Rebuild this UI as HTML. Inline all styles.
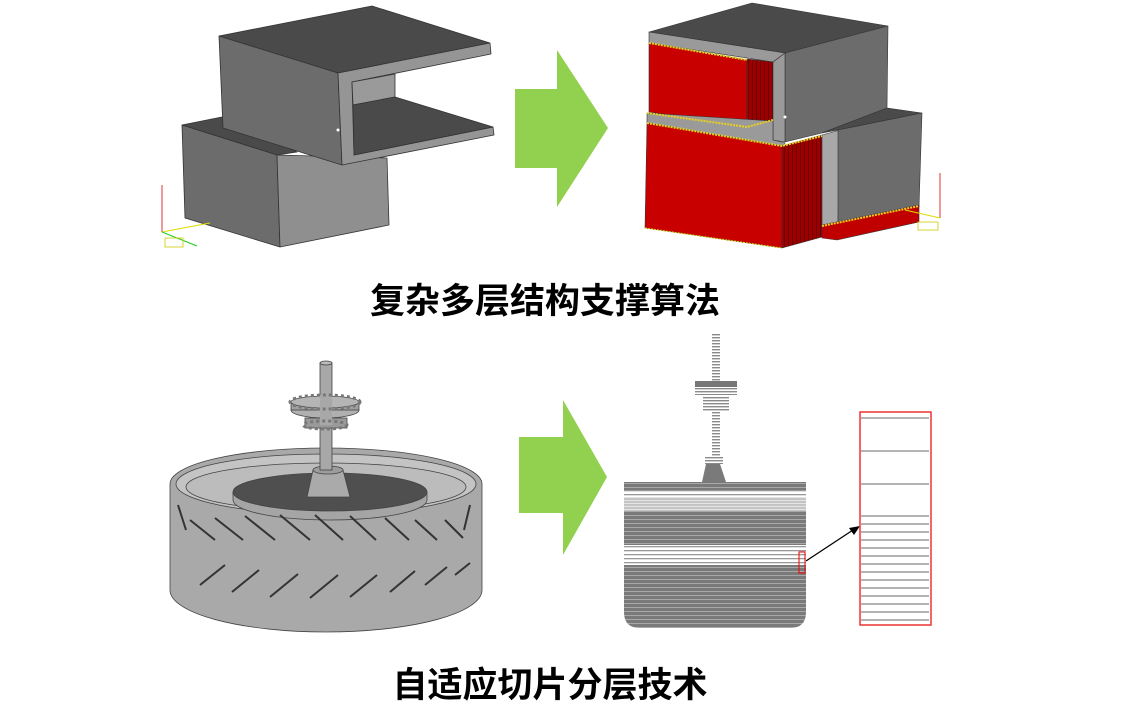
<!DOCTYPE html>
<html><head><meta charset="utf-8"><style>
html,body{margin:0;padding:0;background:#fff;width:1140px;height:705px;overflow:hidden}
.t{position:absolute;left:0;width:1140px;text-align:center;font-family:"Liberation Sans","Noto Sans CJK SC",sans-serif;font-weight:bold;font-size:35px;color:#000}
</style></head><body>
<svg width="1140" height="705" style="position:absolute;left:0;top:0">
<defs>
<pattern id="dk" width="4" height="4" patternUnits="userSpaceOnUse"><rect width="4" height="4" fill="#7a7a7a"/><rect y="3" width="4" height="1" fill="#a8a8a8"/></pattern>
<pattern id="lt" width="4" height="4" patternUnits="userSpaceOnUse"><rect width="4" height="4" fill="#fff"/><rect y="2" width="4" height="1.3" fill="#999"/></pattern>
<pattern id="lg" width="4" height="3" patternUnits="userSpaceOnUse"><rect width="4" height="3" fill="#c4c4c4"/><rect y="2" width="4" height="1" fill="#e4e4e4"/></pattern>
<pattern id="tw" width="4" height="3" patternUnits="userSpaceOnUse"><rect width="4" height="3" fill="#fff"/><rect y="1" width="4" height="1.4" fill="#8a8a8a"/></pattern>
<pattern id="rs" width="4" height="4" patternUnits="userSpaceOnUse"><rect width="4" height="4" fill="#9a0000"/><rect width="1" height="4" fill="#700000"/></pattern>
</defs>
<g stroke="#333" stroke-width="0.8" stroke-linejoin="round">
<!-- left model: lower box -->
<polygon points="182,125 222,117 297,152 277,155" fill="#4a4a4a"/>
<polygon points="182,125 277,155 280,247 185,218" fill="#6c6c6c"/>
<polygon points="277,155 387,158 389,225 280,247" fill="#8f8f8f"/>
<!-- upper box -->
<polygon points="219,36 372,6 490,43 338,73" fill="#4a4a4a"/>
<polygon points="219,36 338,73 342,165 223,128" fill="#6c6c6c"/>
<polygon points="338,73 490,43 491,54 352,82 354,155 493,127 494,135 342,165" fill="#959595"/>
<polygon points="352,82 395,74 395,97 353,105" fill="#9a9a9a"/>
<polygon points="353,105 395,97 493,127 354,155" fill="#4a4a4a"/>
</g>
<circle cx="338" cy="130" r="1.5" fill="#fff"/>
<polyline points="162,185 162,232" fill="none" stroke="#d33" stroke-width="1"/>
<line x1="162" y1="232" x2="210" y2="223" stroke="#dd0" stroke-width="1"/>
<line x1="162" y1="232" x2="197" y2="246" stroke="#2c2" stroke-width="1"/>
<rect x="165" y="238" width="18" height="9" fill="none" stroke="#cc0" stroke-width="0.8"/>
<!-- arrow top -->
<polygon points="515,89 557,89 557,50 608,128 557,207 557,168 515,168" fill="#92d050"/>
<!-- right model -->
<g stroke="#333" stroke-width="0.6" stroke-linejoin="round">
<polygon points="649,32 752,3 888,26 785,53" fill="#4a4a4a"/>
<polygon points="649,32 785,53 773,62 649,43" fill="#9a9a9a"/>
<polygon points="785,53 888,26 887,108 822,133 785,142" fill="#6c6c6c"/>
<polygon points="649,43 747,60 747,127 649,112" fill="#c80000"/>
<polygon points="747,59 773,62 773,120 747,127" fill="url(#rs)"/>
<polygon points="773,62 785,53 785,142 773,140" fill="#9a9a9a"/>
<polygon points="647,113 773,121 773,140 785,143 782,147 647,123" fill="#9a9a9a"/>
<polygon points="647,123 782,146 782,248 645,228" fill="#c80000"/>
<polygon points="782,146 822,135 822,237 782,248" fill="url(#rs)"/>
<polygon points="822,133 887,108 922,113 838,130" fill="#4a4a4a"/>
<polygon points="822,135 840,130 838,222 822,225" fill="#a8a8a8"/>
<polygon points="838,130 922,113 919,207 838,222" fill="#6c6c6c"/>
<polygon points="822,225 919,205 919,222 837,240 822,238" fill="#c00000"/>
</g>
<polyline points="649,43 747,60" fill="none" stroke="#e8d020" stroke-width="2" stroke-dasharray="2 1"/>
<polyline points="647,113 747,127 773,120" fill="none" stroke="#e8d020" stroke-width="2" stroke-dasharray="2 1"/>
<polyline points="647,123 782,146 822,136" fill="none" stroke="#e8d020" stroke-width="2" stroke-dasharray="2 1"/>
<polyline points="822,226 919,206" fill="none" stroke="#e8d020" stroke-width="2" stroke-dasharray="2 1"/>
<polyline points="645,228 782,248" fill="none" stroke="#e8d020" stroke-width="1" stroke-dasharray="2 1"/>
<circle cx="785" cy="117" r="1.5" fill="#fff"/>
<line x1="940" y1="173" x2="940" y2="218" stroke="#d33" stroke-width="1"/>
<line x1="940" y1="218" x2="905" y2="210" stroke="#dd0" stroke-width="1"/>
<rect x="918" y="222" width="20" height="8" fill="none" stroke="#cc0" stroke-width="0.8"/>

<!-- arrow bottom -->
<polygon points="519,437 563,437 563,400 607,477 563,555 563,513 519,513" fill="#92d050"/>

<!-- tire -->
<g stroke="#444" stroke-width="0.8">
<path d="M170,484 A156,36 0 0 1 482,484 L482,590 A156,42 0 0 1 170,590 Z" fill="#a9a9a9"/>
<ellipse cx="326" cy="484" rx="150" ry="30" fill="#c4c4c4"/>
<ellipse cx="326" cy="487" rx="140" ry="24" fill="#bcbcbc"/>
<path d="M233,492 L233,500 A97,20 0 0 0 427,500 L427,492 Z" fill="#a5a5a5"/>
<ellipse cx="330" cy="492" rx="97" ry="19" fill="#4f4f4f"/>
<polygon points="307,497 313,470 343,470 350,497" fill="#aaa"/>
<ellipse cx="328" cy="470" rx="15" ry="4" fill="#9c9c9c"/>
<rect x="320" y="363" width="12" height="107" fill="#a8a8a8"/>
<ellipse cx="326" cy="363" rx="6" ry="2" fill="#bbb"/>
<rect x="305" y="418" width="42" height="10" fill="#9a9a9a"/>
<ellipse cx="325" cy="410" rx="34" ry="8" fill="#b0b0b0"/>
<rect x="291" y="402" width="68" height="8" fill="#a0a0a0"/>
<ellipse cx="325" cy="402" rx="34" ry="6" fill="#b5b5b5"/>
<rect x="320" y="395" width="12" height="30" fill="#a8a8a8" stroke="none"/>
</g>
<g stroke="#777" stroke-width="3" stroke-dasharray="3 3" fill="none">
<ellipse cx="325" cy="402" rx="35" ry="7"/>
<ellipse cx="325" cy="425" rx="22" ry="4"/>
</g>
<g stroke="#333" stroke-width="2" fill="none">
<path d="M190,520 l25,20 M215,518 l28,22 M245,516 l30,24 M280,515 l30,25 M315,515 l28,25 M350,516 l26,24 M385,518 l24,22 M415,520 l22,20 M445,520 l18,18"/>
<path d="M200,585 l25,-20 M232,592 l27,-22 M270,597 l28,-23 M310,598 l28,-23 M350,597 l27,-22 M390,592 l25,-21 M425,585 l22,-18 M455,575 l15,-12"/>
<path d="M178,505 l8,25 M470,505 l-6,25"/>
</g>

<!-- sliced model -->
<path d="M624,482 H806 V612 Q806,628 790,628 H640 Q624,628 624,612 Z" fill="url(#dk)"/>
<rect x="624" y="490" width="182" height="7" fill="url(#lt)"/>
<rect x="624" y="497" width="182" height="14" fill="url(#lg)"/>
<rect x="624" y="545" width="182" height="20" fill="url(#lt)"/>
<polygon points="702,482 726,482 720,464 706,464" fill="#7a7a7a"/>
<rect x="705" y="457" width="18" height="7" fill="url(#tw)"/>
<rect x="712" y="333" width="8" height="48" fill="url(#tw)"/>
<rect x="695" y="381" width="42" height="14" fill="url(#tw)"/>
<rect x="695" y="381" width="42" height="6" fill="#777"/>
<rect x="703" y="397" width="26" height="14" fill="url(#tw)"/>
<rect x="712" y="411" width="8" height="46" fill="url(#tw)"/>
<rect x="799" y="552" width="6" height="21" fill="none" stroke="#e00" stroke-width="1"/>
<line x1="806" y1="561" x2="853" y2="530" stroke="#000" stroke-width="1.3"/>
<polygon points="860,526 849,528 854,535" fill="#000"/>
<rect x="860" y="412" width="71" height="213" fill="#fff" stroke="#e33" stroke-width="1.5"/>
<g stroke="#888" stroke-width="1.3">
<line x1="861" y1="418" x2="929" y2="418"/><line x1="861" y1="451" x2="929" y2="451"/><line x1="861" y1="484" x2="929" y2="484"/>
<line x1="861" y1="516" x2="929" y2="516"/><line x1="861" y1="524" x2="929" y2="524"/><line x1="861" y1="532" x2="929" y2="532"/>
<line x1="861" y1="540" x2="929" y2="540"/><line x1="861" y1="548" x2="929" y2="548"/><line x1="861" y1="556" x2="929" y2="556"/>
<line x1="861" y1="564" x2="929" y2="564"/><line x1="861" y1="572" x2="929" y2="572"/><line x1="861" y1="580" x2="929" y2="580"/>
<line x1="861" y1="588" x2="929" y2="588"/><line x1="861" y1="596" x2="929" y2="596"/><line x1="861" y1="604" x2="929" y2="604"/>
<line x1="861" y1="612" x2="929" y2="612"/><line x1="861" y1="620" x2="929" y2="620"/>
</g>
</svg>
<div class="t" style="top:273px;left:-25px">复杂多层结构支撑算法</div>
<div class="t" style="top:657px;left:-20px">自适应切片分层技术</div>
</body></html>
